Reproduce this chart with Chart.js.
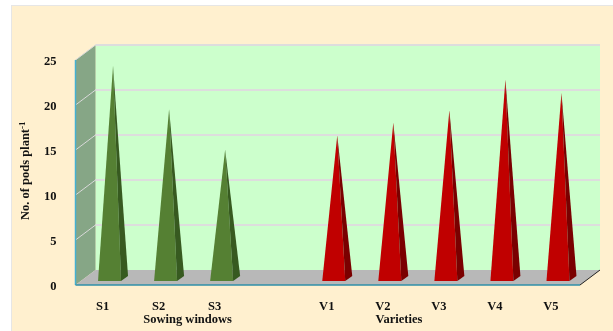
<!DOCTYPE html>
<html>
<head>
<meta charset="utf-8">
<style>
    html, body { margin: 0; padding: 0; background: #fff; }
    #painel { position: absolute; left: 11px; top: 5px; width: 602px; height: 326px; background: #FFF0CF; border-left: 1px solid #e6e6e6; border-top: 1px solid #e6e6e6; box-sizing: border-box; }
    canvas { position: absolute; left: 0; top: 0; }
</style>
<script src="https://cdn.jsdelivr.net/npm/chart.js@4"></script>
</head>
<body>
<div id="painel"></div>
<canvas id="myChart" width="613" height="331"></canvas>
<script>
// dados
const categorias = ['S1', 'S2', 'S3', '', 'V1', 'V2', 'V3', 'V4', 'V5'];
const janelas = [23.6, 18.8, 14.3, null, null, null, null, null, null];
const variedades = [null, null, null, null, 15.9, 17.3, 18.7, 22.1, 20.6];
const yTicks = [0, 5, 10, 15, 20, 25];
const grupos = ['Sowing windows', 'Varieties'];
const grupoPos = [1.5, 5.27];

const fonte = 'bold 12.5px "Liberation Serif"';
const PROF_X = 20, PROF_Y = 15; // profundidade do efeito 3D

// paredes, chao e linhas do fundo
const fundo3d = {
    id: 'fundo3d',
    beforeDatasetsDraw(chart) {
        const c = chart.ctx, a = chart.chartArea, y = chart.scales.y;
        const poly = (pts, cor) => {
            c.fillStyle = cor;
            c.beginPath();
            pts.forEach((p, i) => i ? c.lineTo(p[0], p[1]) : c.moveTo(p[0], p[1]));
            c.closePath();
            c.fill();
        };
        const linha = (x1, y1, x2, y2, cor, w) => {
            c.strokeStyle = cor;
            c.lineWidth = w;
            c.beginPath();
            c.moveTo(x1, y1);
            c.lineTo(x2, y2);
            c.stroke();
        };
        c.save();
        poly([[a.left + PROF_X, a.top - PROF_Y], [a.right + PROF_X, a.top - PROF_Y], [a.right + PROF_X, a.bottom - PROF_Y], [a.left + PROF_X, a.bottom - PROF_Y]], '#CCFFCC');
        poly([[a.left, a.top], [a.left + PROF_X, a.top - PROF_Y], [a.left + PROF_X, a.bottom - PROF_Y], [a.left, a.bottom]], '#86A686');
        poly([[a.left, a.bottom], [a.left + PROF_X, a.bottom - PROF_Y], [a.right + PROF_X, a.bottom - PROF_Y], [a.right, a.bottom]], '#B8B8B8');
        yTicks.forEach(t => {
            const py = y.getPixelForValue(t);
            if (t > 0) {
                linha(a.left, py, a.left + PROF_X, py - PROF_Y, '#D8D8D8', 1);
                linha(a.left + PROF_X, py - PROF_Y, a.right + PROF_X, py - PROF_Y, '#DDDDDD', 2);
            }
        });
        linha(a.right, a.bottom, a.right + PROF_X, a.bottom - PROF_Y, '#222', 1);
        linha(a.left, a.top, a.left, a.bottom, '#45B0D0', 1.5);
        linha(a.left, a.bottom, a.right, a.bottom, '#2F8FA8', 1.5);
        c.restore();
    }
};

// as colunas viram piramides, usando a posicao de cada barra
const piramides = {
    id: 'piramides',
    afterDatasetsDraw(chart) {
        const c = chart.ctx;
        chart.data.datasets.forEach((ds, i) => {
            chart.getDatasetMeta(i).data.forEach((bar, j) => {
                if (ds.data[j] === null) return;
                const base = bar.base - 4;
                const esq = bar.x - 5.5, dir = bar.x + 17.5;
                const topoX = bar.x + 9.5, topoY = bar.y - 6.5;
                c.fillStyle = ds.corFrente;
                c.beginPath();
                c.moveTo(esq, base);
                c.lineTo(dir, base);
                c.lineTo(topoX, topoY);
                c.closePath();
                c.fill();
                c.fillStyle = ds.corLado;
                c.beginPath();
                c.moveTo(dir, base);
                c.lineTo(dir + 7, base - 5);
                c.lineTo(topoX, topoY);
                c.closePath();
                c.fill();
            });
        });
    }
};

// nomes dos grupos e titulo do eixo y (o -1 fica sobrescrito)
const textos = {
    id: 'textos',
    afterDraw(chart) {
        const c = chart.ctx;
        c.save();
        c.font = fonte;
        c.fillStyle = '#111';
        c.textAlign = 'center';
        c.textBaseline = 'middle';
        grupos.forEach((g, i) => c.fillText(g, chart.scales.x.getPixelForValue(grupoPos[i]), 320));
        c.restore();

        c.save();
        c.translate(29, 220);
        c.rotate(-Math.PI / 2);
        c.fillStyle = '#111';
        c.textAlign = 'left';
        c.textBaseline = 'alphabetic';
        c.font = fonte;
        const titulo = 'No. of pods plant';
        c.fillText(titulo, 0, 0);
        const larg = c.measureText(titulo).width;
        c.font = 'bold 9px "Liberation Serif"';
        c.fillText('-1', larg, -4);
        c.restore();
    }
};

const grafico = new Chart(document.getElementById('myChart').getContext('2d'), {
    type: 'bar',
    data: {
        labels: categorias,
        datasets: [
            { label: 'Sowing windows', data: janelas, backgroundColor: 'transparent', corFrente: '#558033', corLado: '#375A20' },
            { label: 'Varieties', data: variedades, backgroundColor: 'transparent', corFrente: '#C00000', corLado: '#7A0000' }
        ]
    },
    plugins: [fundo3d, piramides, textos],
    options: {
        responsive: false,
        animation: false,
        layout: { padding: { top: 60, right: 33, left: 0, bottom: 0 } },
        plugins: { legend: { display: false }, tooltip: { enabled: false } },
        scales: {
            x: {
                stacked: true,
                grid: { display: false },
                border: { display: false },
                afterFit(s) { s.height = 46; },
                ticks: {
                    color: '#111', padding: 6, maxRotation: 0, autoSkip: false, labelOffset: -1,
                    font: { family: 'Liberation Serif', size: 12.5, weight: 'bold' }
                }
            },
            y: {
                min: 0,
                max: 25,
                stacked: true,
                grid: { display: false },
                border: { display: false },
                afterFit(s) { s.width = 75.5; },
                afterBuildTicks(s) { s.ticks = yTicks.map(v => ({ value: v })); },
                ticks: {
                    color: '#111', padding: 11, labelOffset: 1.5,
                    font: { family: 'Liberation Serif', size: 12.5, weight: 'bold' }
                }
            }
        }
    }
});
</script>
</body>
</html>
